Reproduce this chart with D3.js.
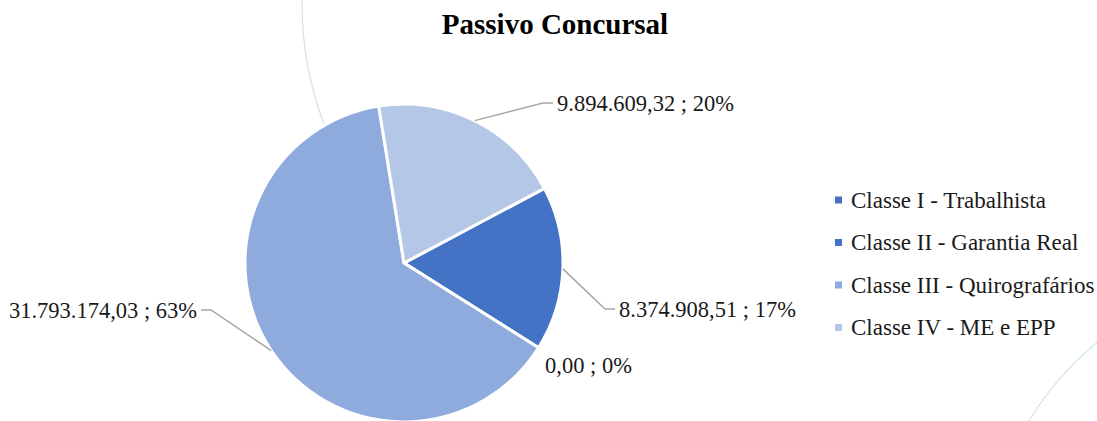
<!DOCTYPE html>
<html>
<head>
<meta charset="utf-8">
<script src="https://cdn.jsdelivr.net/npm/d3@7"></script>
<style>
  html, body { margin: 0; padding: 0; background: #fff; }
  svg { display: block; }
</style>
</head>
<body>
<svg id="chart"></svg>
<script>
// data
var categories = ['Classe I - Trabalhista', 'Classe II - Garantia Real', 'Classe III - Quirografários', 'Classe IV - ME e EPP'];
var values     = [8374908.51, 0.00, 31793174.03, 9894609.32];
var percents   = [17, 0, 63, 20];
var colors     = ['#4472C4', '#4472C4', '#8FAADC', '#B4C7E7'];

var width = 1097, height = 421;
var cx = 404, cy = 263, radius = 159;
var firstAngle = 62; // degrees, angle of first slice
var FONT = "Liberation Serif";

var svg = d3.select('#chart').attr('width', width).attr('height', height);

// faint background arcs of the slide
svg.append('path')
  .attr('d', 'M302,0 A343,343 0 0 0 324,124')
  .attr('fill', 'none').attr('stroke', '#cfe3f1').attr('stroke-width', 1.2);
svg.append('path')
  .attr('d', 'M1100,340 A300,300 0 0 0 1029,421')
  .attr('fill', 'none').attr('stroke', '#cfe3f1').attr('stroke-width', 1.2);

// title
svg.append('text')
  .attr('x', 555).attr('y', 34)
  .attr('text-anchor', 'middle')
  .attr('font-family', FONT)
  .attr('font-size', 29).attr('font-weight', 'bold')
  .attr('fill', '#000')
  .text('Passivo Concursal');

var rows = categories.map(function(c, i) {
  return { name: c, value: values[i], pct: percents[i], color: colors[i] };
});

var start = firstAngle * Math.PI / 180;
var pie = d3.pie().sort(null).value(function(d) { return d.value; })
  .startAngle(start).endAngle(start + 2 * Math.PI);
var arcs = pie(rows);

var arc = d3.arc().innerRadius(0).outerRadius(radius);

var g = svg.append('g').attr('transform', 'translate(' + cx + ',' + cy + ')');

g.selectAll('path.slice')
  .data(arcs)
  .enter().append('path')
  .attr('class', 'slice')
  .attr('d', arc)
  .attr('fill', function(d) { return d.data.color; })
  .attr('stroke', '#fff')
  .attr('stroke-width', 3)
  .attr('stroke-linejoin', 'round');

// labels: position relative to pie centre, leader on/off
var labelPos = [
  { x: 215, y: 54, anchor: 'start', lead: true, side: 1 },
  { x: 141, y: 110, anchor: 'start', lead: false },
  { x: -207, y: 55, anchor: 'end', lead: true, side: -1 },
  { x: 153, y: -152, anchor: 'start', lead: true, side: 1 }
];

var fmt = function(v) {
  var s = d3.format(',.2f')(v);
  return s.replace(/,/g, '#').replace('.', ',').replace(/#/g, '.');
};

arcs.forEach(function(d, i) {
  var p = labelPos[i];
  var mid = (d.startAngle + d.endAngle) / 2;
  var sx = Math.sin(mid) * radius, sy = -Math.cos(mid) * radius;
  var ly = p.y - 8;
  if (p.lead) {
    var ex = p.x - p.side * 14;
    var ex2 = p.x - p.side * 4;
    g.append('path')
      .attr('d', 'M' + sx + ',' + sy + 'L' + ex + ',' + ly + 'L' + ex2 + ',' + ly)
      .attr('fill', 'none')
      .attr('stroke', '#a6a6a6')
      .attr('stroke-width', 1.5);
  }
  g.append('text')
    .attr('x', p.x).attr('y', p.y)
    .attr('text-anchor', p.anchor)
    .attr('font-family', FONT)
    .attr('font-size', 22.5)
    .attr('fill', '#1a1a1a')
    .text(fmt(d.data.value) + ' ; ' + d.data.pct + '%');
});

// legend
var legend = svg.append('g').attr('transform', 'translate(835,200)');
var item = legend.selectAll('g')
  .data(rows)
  .enter().append('g')
  .attr('transform', function(d, i) { return 'translate(0,' + (i * 42.5) + ')'; });
item.append('rect')
  .attr('x', 0).attr('y', -3.5).attr('width', 7).attr('height', 7)
  .attr('fill', function(d) { return d.color; });
item.append('text')
  .attr('x', 16).attr('y', 7.5)
  .attr('font-family', FONT)
  .attr('font-size', 23)
  .attr('fill', '#1a1a1a')
  .text(function(d) { return d.name; });
</script>
</body>
</html>
